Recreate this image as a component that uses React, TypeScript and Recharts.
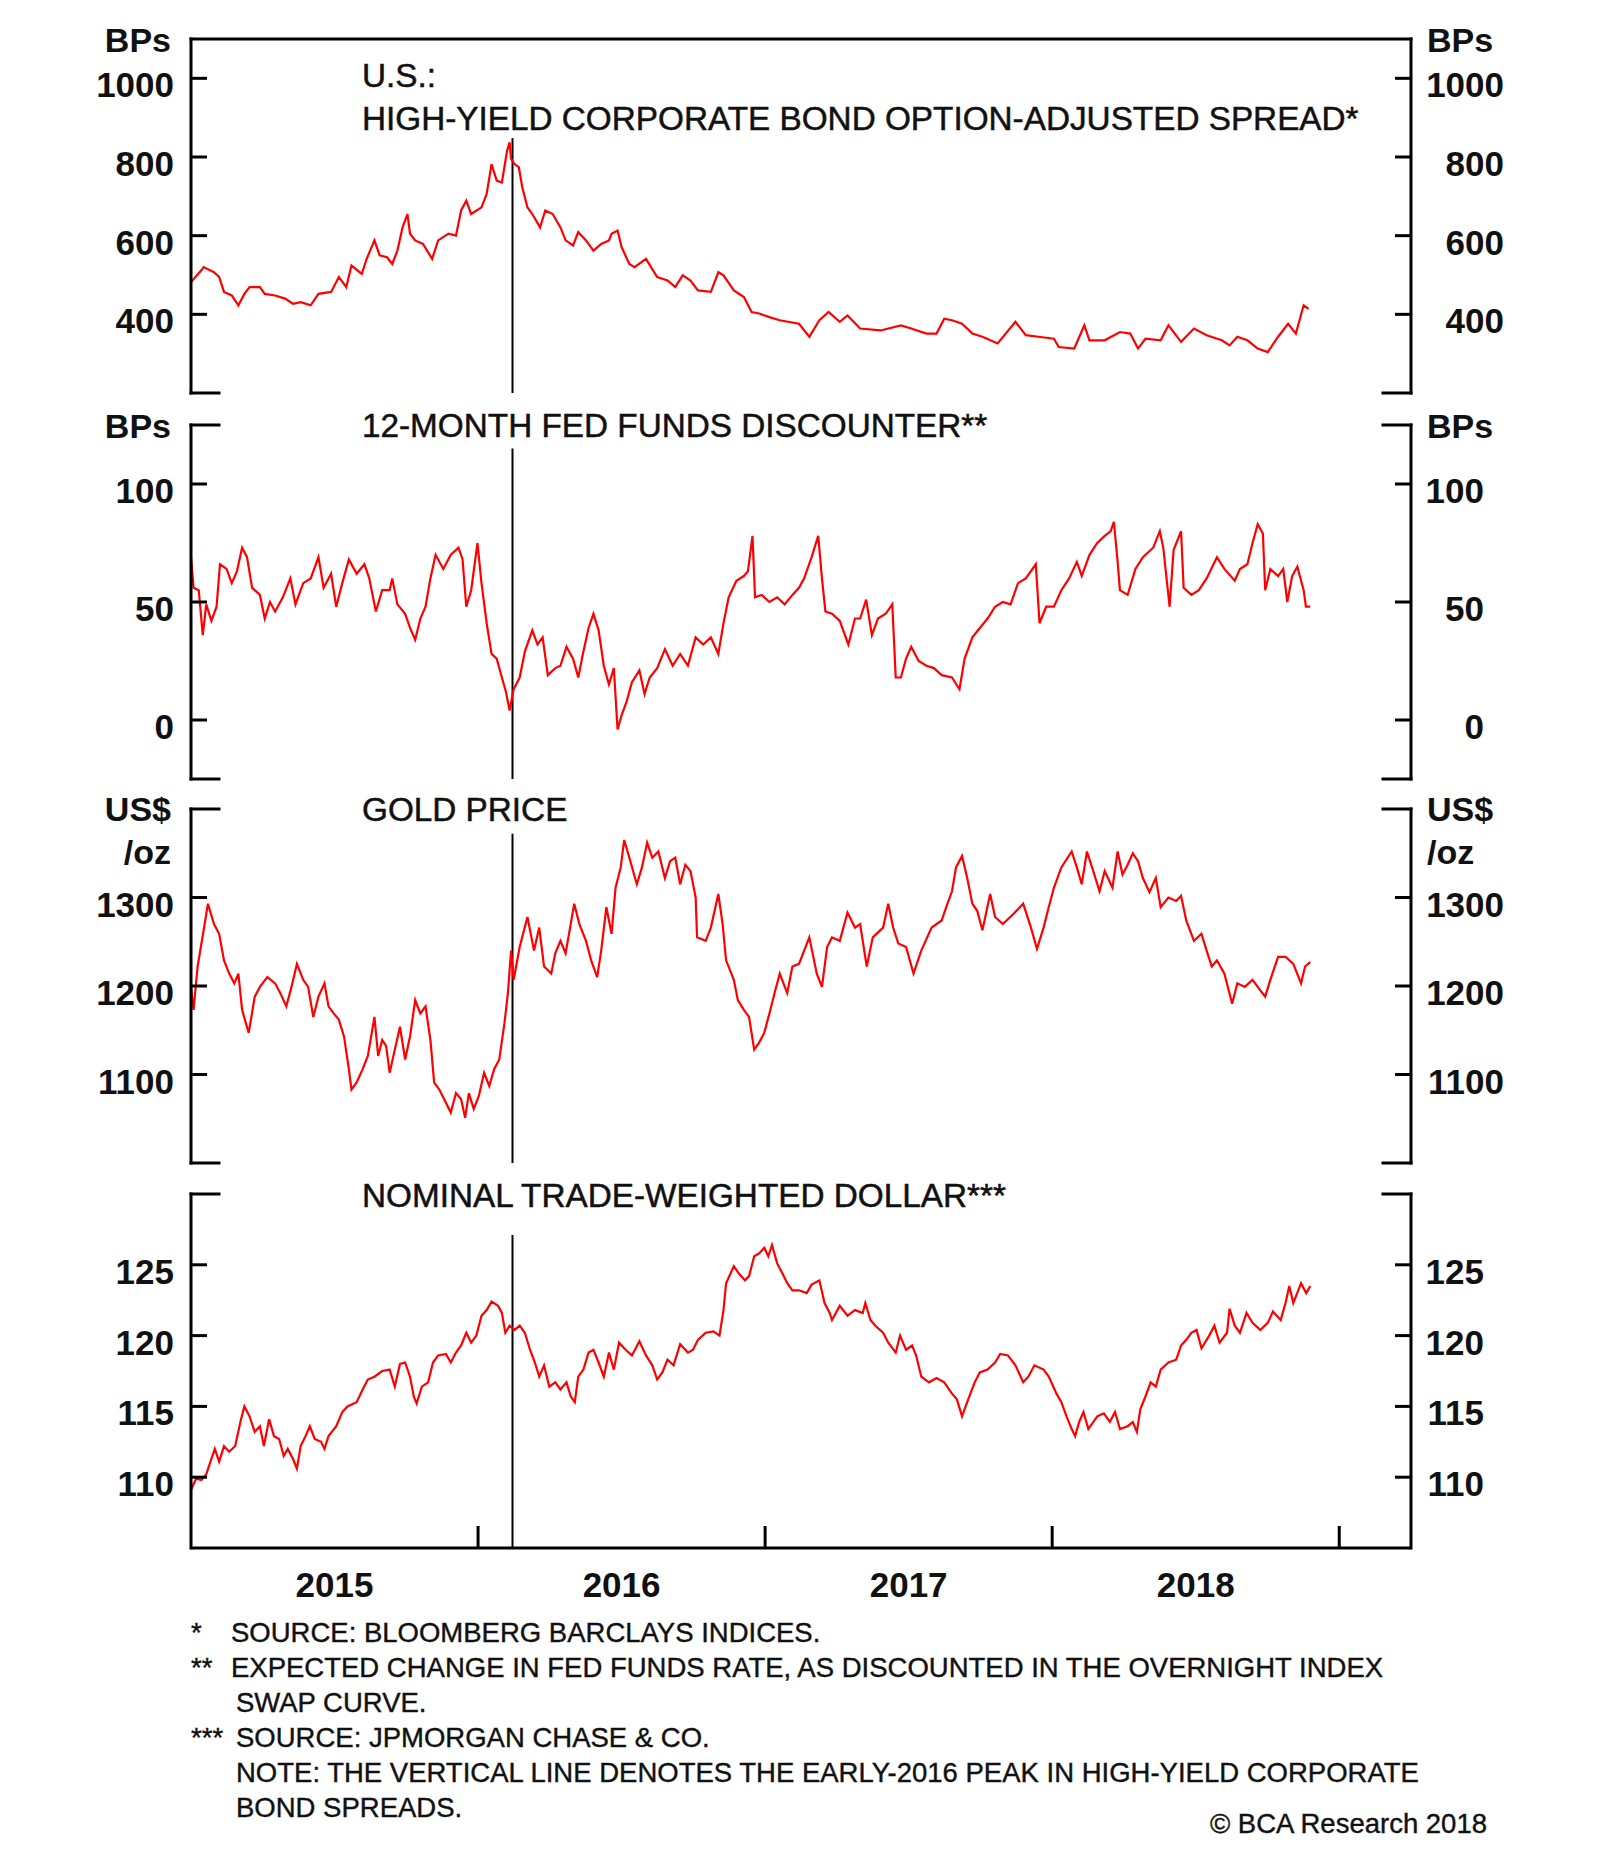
import React from "react";
import { LineChart, Line, XAxis, YAxis, ReferenceLine } from "recharts";

// decimal year, value
const hySpread: [number, number][] = [
  [2015.0, 482], [2015.036, 512], [2015.044, 520], [2015.08, 507], [2015.098, 495], [2015.115, 457],
  [2015.142, 448], [2015.165, 423], [2015.186, 452], [2015.204, 469], [2015.24, 469], [2015.257, 452],
  [2015.293, 448], [2015.328, 440], [2015.355, 427], [2015.382, 431], [2015.417, 423], [2015.444, 452],
  [2015.488, 457], [2015.515, 495], [2015.541, 469], [2015.559, 524], [2015.595, 503], [2015.612, 541],
  [2015.639, 588], [2015.657, 550], [2015.683, 545], [2015.701, 528], [2015.719, 562], [2015.737, 621],
  [2015.754, 655], [2015.763, 605], [2015.781, 588], [2015.808, 579], [2015.84, 541], [2015.861, 588],
  [2015.897, 605], [2015.923, 600], [2015.941, 664], [2015.959, 689], [2015.976, 655], [2016.012, 672],
  [2016.03, 706], [2016.047, 782], [2016.065, 740], [2016.083, 735], [2016.101, 816], [2016.11, 837],
  [2016.115, 795], [2016.127, 782], [2016.142, 774], [2016.154, 723], [2016.172, 672], [2016.189, 655],
  [2016.216, 621], [2016.234, 664], [2016.26, 655], [2016.287, 621], [2016.305, 588], [2016.331, 575],
  [2016.349, 609], [2016.376, 588], [2016.402, 562], [2016.429, 579], [2016.456, 588], [2016.465, 605],
  [2016.486, 613], [2016.5, 571], [2016.527, 528], [2016.545, 520], [2016.585, 541], [2016.624, 495],
  [2016.66, 486], [2016.687, 469], [2016.713, 499], [2016.74, 486], [2016.766, 461], [2016.811, 457],
  [2016.837, 507], [2016.855, 499], [2016.891, 461], [2016.926, 444], [2016.953, 406], [2016.979, 402],
  [2017.015, 393], [2017.051, 385], [2017.118, 376], [2017.154, 343], [2017.189, 385], [2017.221, 406],
  [2017.26, 381], [2017.287, 397], [2017.331, 364], [2017.402, 359], [2017.473, 372], [2017.509, 364],
  [2017.562, 351], [2017.597, 351], [2017.624, 389], [2017.651, 385], [2017.686, 376], [2017.722, 351],
  [2017.757, 343], [2017.81, 326], [2017.872, 381], [2017.908, 347], [2017.952, 343], [2018.006, 338],
  [2018.023, 317], [2018.077, 313], [2018.112, 372], [2018.13, 334], [2018.183, 334], [2018.236, 355],
  [2018.272, 351], [2018.299, 313], [2018.325, 338], [2018.378, 334], [2018.405, 372], [2018.449, 330],
  [2018.494, 364], [2018.538, 347], [2018.591, 334], [2018.618, 321], [2018.645, 343], [2018.68, 334],
  [2018.716, 313], [2018.751, 304], [2018.787, 343], [2018.822, 376], [2018.849, 351], [2018.876, 423],
  [2018.893, 414],
];

const fedDiscounter: [number, number][] = [
  [2015.0, 69], [2015.009, 56], [2015.027, 55], [2015.041, 36], [2015.053, 49], [2015.071, 42],
  [2015.089, 48], [2015.101, 66], [2015.124, 64], [2015.142, 58], [2015.16, 63], [2015.178, 73],
  [2015.195, 69], [2015.213, 56], [2015.24, 53], [2015.257, 43], [2015.275, 50], [2015.293, 46],
  [2015.32, 52], [2015.346, 60], [2015.364, 49], [2015.391, 58], [2015.417, 60], [2015.444, 69],
  [2015.462, 56], [2015.488, 62], [2015.506, 48], [2015.527, 58], [2015.55, 68], [2015.577, 62],
  [2015.604, 66], [2015.621, 60], [2015.644, 46], [2015.666, 55], [2015.692, 55], [2015.701, 60],
  [2015.719, 49], [2015.746, 45], [2015.763, 39], [2015.781, 34], [2015.799, 43], [2015.817, 48],
  [2015.834, 60], [2015.852, 70], [2015.879, 64], [2015.905, 70], [2015.932, 73], [2015.946, 68],
  [2015.959, 48], [2015.976, 55], [2015.998, 75], [2016.012, 58], [2016.03, 41], [2016.047, 28],
  [2016.065, 26], [2016.083, 18], [2016.097, 12], [2016.11, 4], [2016.124, 13], [2016.145, 18],
  [2016.163, 29], [2016.189, 38], [2016.207, 32], [2016.225, 35], [2016.243, 19], [2016.269, 22],
  [2016.287, 23], [2016.308, 31], [2016.331, 26], [2016.349, 18], [2016.367, 29], [2016.385, 39],
  [2016.402, 45], [2016.42, 38], [2016.438, 23], [2016.456, 15], [2016.473, 22], [2016.486, -4],
  [2016.5, 2], [2016.518, 8], [2016.536, 16], [2016.562, 21], [2016.58, 11], [2016.598, 18],
  [2016.624, 22], [2016.651, 30], [2016.678, 23], [2016.704, 28], [2016.731, 23], [2016.758, 35],
  [2016.784, 32], [2016.811, 35], [2016.837, 28], [2016.855, 41], [2016.873, 52], [2016.9, 59],
  [2016.926, 61], [2016.94, 63], [2016.956, 78], [2016.965, 52], [2016.988, 53], [2017.015, 50],
  [2017.042, 52], [2017.068, 49], [2017.095, 53], [2017.118, 56], [2017.136, 60], [2017.162, 69],
  [2017.185, 78], [2017.198, 60], [2017.21, 46], [2017.233, 45], [2017.26, 42], [2017.29, 32],
  [2017.313, 43], [2017.331, 43], [2017.352, 51], [2017.372, 36], [2017.393, 43], [2017.42, 45],
  [2017.443, 49], [2017.455, 18], [2017.473, 18], [2017.491, 26], [2017.509, 31], [2017.535, 25],
  [2017.562, 23], [2017.588, 22], [2017.615, 19], [2017.651, 18], [2017.677, 13], [2017.695, 26],
  [2017.722, 35], [2017.748, 39], [2017.775, 43], [2017.801, 48], [2017.828, 50], [2017.855, 49],
  [2017.881, 58], [2017.908, 60], [2017.943, 66], [2017.956, 41], [2017.979, 48], [2018.006, 48],
  [2018.032, 55], [2018.059, 60], [2018.086, 67], [2018.103, 61], [2018.13, 70], [2018.157, 75],
  [2018.183, 78], [2018.204, 80], [2018.215, 84], [2018.228, 67], [2018.236, 55], [2018.263, 53],
  [2018.29, 64], [2018.316, 69], [2018.352, 73], [2018.375, 80], [2018.387, 73], [2018.409, 48],
  [2018.423, 72], [2018.449, 80], [2018.458, 56], [2018.485, 53], [2018.511, 55], [2018.538, 60],
  [2018.574, 69], [2018.6, 64], [2018.636, 59], [2018.654, 64], [2018.68, 66], [2018.698, 75],
  [2018.716, 83], [2018.734, 79], [2018.742, 55], [2018.76, 64], [2018.787, 61], [2018.805, 64],
  [2018.819, 50], [2018.836, 61], [2018.854, 65], [2018.876, 55], [2018.884, 48], [2018.899, 48],
];

const goldPrice: [number, number][] = [
  [2015.0, 1199], [2015.009, 1173], [2015.023, 1222], [2015.044, 1263], [2015.059, 1293], [2015.08, 1270],
  [2015.098, 1259], [2015.115, 1229], [2015.133, 1214], [2015.151, 1203], [2015.165, 1214], [2015.178, 1173],
  [2015.201, 1147], [2015.222, 1188], [2015.24, 1199], [2015.266, 1210], [2015.293, 1203], [2015.311, 1192],
  [2015.332, 1177], [2015.35, 1199], [2015.369, 1225], [2015.391, 1207], [2015.408, 1199], [2015.426, 1165],
  [2015.444, 1188], [2015.465, 1203], [2015.479, 1177], [2015.497, 1169], [2015.515, 1162], [2015.533, 1143],
  [2015.55, 1106], [2015.559, 1083], [2015.577, 1091], [2015.598, 1106], [2015.616, 1121], [2015.639, 1165],
  [2015.652, 1121], [2015.666, 1139], [2015.68, 1132], [2015.692, 1102], [2015.71, 1128], [2015.728, 1154],
  [2015.746, 1117], [2015.763, 1143], [2015.781, 1184], [2015.799, 1169], [2015.817, 1177], [2015.834, 1139],
  [2015.847, 1091], [2015.865, 1083], [2015.882, 1072], [2015.905, 1057], [2015.923, 1079], [2015.941, 1072],
  [2015.955, 1051], [2015.968, 1079], [2015.985, 1061], [2016.003, 1076], [2016.021, 1102], [2016.039, 1087],
  [2016.056, 1106], [2016.074, 1117], [2016.092, 1158], [2016.104, 1192], [2016.115, 1240], [2016.124, 1207],
  [2016.145, 1244], [2016.172, 1278], [2016.195, 1240], [2016.213, 1266], [2016.23, 1222], [2016.255, 1214],
  [2016.269, 1237], [2016.287, 1251], [2016.305, 1237], [2016.317, 1259], [2016.335, 1293], [2016.353, 1270],
  [2016.376, 1251], [2016.394, 1229], [2016.415, 1210], [2016.429, 1240], [2016.447, 1289], [2016.465, 1259],
  [2016.479, 1311], [2016.497, 1334], [2016.509, 1365], [2016.527, 1345], [2016.553, 1315], [2016.571, 1334],
  [2016.589, 1362], [2016.607, 1345], [2016.628, 1352], [2016.651, 1322], [2016.669, 1341], [2016.687, 1345],
  [2016.704, 1315], [2016.722, 1337], [2016.74, 1330], [2016.758, 1300], [2016.763, 1255], [2016.793, 1251],
  [2016.811, 1266], [2016.837, 1304], [2016.852, 1270], [2016.864, 1229], [2016.891, 1207], [2016.905, 1184],
  [2016.926, 1173], [2016.944, 1165], [2016.962, 1128], [2016.979, 1136], [2016.997, 1147], [2017.015, 1169],
  [2017.033, 1192], [2017.051, 1214], [2017.077, 1192], [2017.095, 1222], [2017.118, 1225], [2017.154, 1255],
  [2017.18, 1214], [2017.198, 1199], [2017.216, 1244], [2017.233, 1255], [2017.26, 1251], [2017.287, 1283],
  [2017.313, 1266], [2017.331, 1270], [2017.354, 1222], [2017.375, 1255], [2017.411, 1266], [2017.429, 1293],
  [2017.446, 1266], [2017.464, 1248], [2017.491, 1244], [2017.517, 1214], [2017.544, 1240], [2017.58, 1266],
  [2017.615, 1274], [2017.633, 1291], [2017.651, 1307], [2017.665, 1334], [2017.686, 1347], [2017.704, 1322],
  [2017.722, 1293], [2017.739, 1285], [2017.757, 1263], [2017.784, 1304], [2017.801, 1278], [2017.828, 1270],
  [2017.864, 1281], [2017.899, 1293], [2017.926, 1266], [2017.947, 1242], [2017.97, 1266], [2017.988, 1289],
  [2018.006, 1311], [2018.032, 1334], [2018.068, 1352], [2018.086, 1334], [2018.103, 1315], [2018.121, 1352],
  [2018.139, 1334], [2018.165, 1307], [2018.183, 1330], [2018.21, 1311], [2018.228, 1352], [2018.245, 1326],
  [2018.263, 1337], [2018.281, 1350], [2018.299, 1341], [2018.316, 1322], [2018.339, 1306], [2018.361, 1322],
  [2018.378, 1289], [2018.405, 1300], [2018.432, 1296], [2018.449, 1302], [2018.467, 1274], [2018.494, 1251],
  [2018.52, 1259], [2018.538, 1240], [2018.556, 1222], [2018.574, 1229], [2018.6, 1214], [2018.627, 1180],
  [2018.645, 1203], [2018.671, 1199], [2018.698, 1207], [2018.725, 1195], [2018.742, 1188], [2018.76, 1207],
  [2018.787, 1233], [2018.813, 1233], [2018.84, 1225], [2018.867, 1203], [2018.881, 1222], [2018.899, 1227],
];

const tradeDollar: [number, number][] = [
  [2015.0, 109.1], [2015.018, 109.9], [2015.036, 109.8], [2015.053, 110.2], [2015.071, 111.3], [2015.083, 112.0],
  [2015.098, 111.1], [2015.115, 112.2], [2015.133, 111.8], [2015.154, 112.2], [2015.172, 113.9], [2015.186, 115.0],
  [2015.204, 114.3], [2015.222, 113.2], [2015.24, 113.6], [2015.254, 112.2], [2015.272, 114.1], [2015.289, 112.9],
  [2015.307, 112.7], [2015.323, 111.5], [2015.337, 112.0], [2015.355, 111.3], [2015.369, 110.6], [2015.382, 112.2],
  [2015.399, 112.9], [2015.414, 113.6], [2015.431, 112.7], [2015.453, 112.5], [2015.465, 112.0], [2015.479, 112.9],
  [2015.506, 113.6], [2015.527, 114.6], [2015.545, 115.0], [2015.577, 115.3], [2015.598, 116.2], [2015.616, 116.9],
  [2015.639, 117.1], [2015.666, 117.5], [2015.692, 117.6], [2015.71, 116.4], [2015.728, 118.0], [2015.746, 118.1],
  [2015.763, 117.1], [2015.776, 115.7], [2015.786, 115.2], [2015.804, 116.4], [2015.826, 116.7], [2015.843, 118.1],
  [2015.861, 118.6], [2015.888, 118.7], [2015.905, 118.1], [2015.923, 118.8], [2015.941, 119.3], [2015.959, 120.2],
  [2015.976, 119.5], [2015.994, 120.0], [2016.012, 121.4], [2016.03, 121.8], [2016.047, 122.4], [2016.07, 122.1],
  [2016.083, 121.6], [2016.095, 120.2], [2016.11, 120.7], [2016.127, 120.4], [2016.145, 120.7], [2016.163, 120.2],
  [2016.181, 119.0], [2016.198, 118.1], [2016.213, 117.1], [2016.23, 117.9], [2016.248, 116.4], [2016.269, 116.7],
  [2016.287, 116.2], [2016.308, 116.7], [2016.323, 115.7], [2016.337, 115.3], [2016.349, 117.1], [2016.367, 117.6],
  [2016.385, 118.8], [2016.402, 119.0], [2016.42, 118.1], [2016.438, 117.1], [2016.456, 118.8], [2016.473, 117.6],
  [2016.491, 119.5], [2016.514, 119.0], [2016.536, 118.6], [2016.562, 119.6], [2016.585, 118.6], [2016.607, 117.9],
  [2016.624, 116.9], [2016.642, 117.4], [2016.66, 118.3], [2016.681, 117.9], [2016.704, 119.4], [2016.731, 118.8],
  [2016.749, 119.0], [2016.766, 119.7], [2016.793, 120.2], [2016.82, 120.3], [2016.841, 120.0], [2016.855, 121.8],
  [2016.864, 123.7], [2016.891, 124.9], [2016.908, 124.4], [2016.93, 123.9], [2016.944, 124.2], [2016.962, 125.6],
  [2016.979, 125.8], [2016.997, 126.2], [2017.011, 125.6], [2017.024, 126.4], [2017.042, 125.1], [2017.06, 124.4],
  [2017.077, 123.7], [2017.095, 123.2], [2017.118, 123.2], [2017.145, 123.0], [2017.162, 123.6], [2017.189, 123.9],
  [2017.207, 122.3], [2017.225, 121.6], [2017.233, 121.1], [2017.26, 122.1], [2017.287, 121.4], [2017.313, 121.8],
  [2017.34, 121.6], [2017.349, 122.3], [2017.367, 121.1], [2017.384, 120.7], [2017.411, 120.2], [2017.429, 119.5],
  [2017.455, 118.8], [2017.47, 120.0], [2017.491, 119.0], [2017.512, 119.3], [2017.526, 118.6], [2017.544, 117.1],
  [2017.571, 116.7], [2017.597, 117.0], [2017.624, 116.7], [2017.651, 115.9], [2017.668, 115.5], [2017.686, 114.3],
  [2017.704, 115.3], [2017.73, 116.7], [2017.748, 117.4], [2017.775, 117.6], [2017.801, 118.1], [2017.819, 118.7],
  [2017.846, 118.6], [2017.872, 117.9], [2017.899, 116.7], [2017.917, 117.1], [2017.938, 117.9], [2017.97, 117.6],
  [2017.988, 117.1], [2018.015, 115.9], [2018.032, 115.3], [2018.05, 114.3], [2018.068, 113.4], [2018.08, 112.9],
  [2018.094, 113.9], [2018.109, 114.6], [2018.126, 113.4], [2018.157, 114.3], [2018.18, 114.5], [2018.201, 113.9],
  [2018.219, 114.6], [2018.236, 113.4], [2018.263, 113.6], [2018.281, 113.9], [2018.295, 113.2], [2018.307, 114.8],
  [2018.325, 115.7], [2018.343, 116.7], [2018.361, 116.4], [2018.378, 117.6], [2018.405, 118.1], [2018.432, 118.3],
  [2018.449, 119.3], [2018.467, 119.7], [2018.485, 120.2], [2018.503, 120.4], [2018.52, 119.1], [2018.547, 120.0],
  [2018.565, 120.7], [2018.583, 119.5], [2018.609, 120.2], [2018.618, 121.9], [2018.636, 120.7], [2018.654, 120.2],
  [2018.677, 121.6], [2018.698, 120.9], [2018.725, 120.4], [2018.751, 120.9], [2018.769, 121.7], [2018.796, 121.1],
  [2018.813, 122.3], [2018.826, 123.5], [2018.84, 122.3], [2018.867, 123.7], [2018.885, 123.0], [2018.899, 123.5],
];

const xDomain: [number, number] = [2015, 2019.25];
const yearBreaks = [2016, 2017, 2018, 2019];
const yearMids = [2015.5, 2016.5, 2017.5, 2018.5];
const peakDate = 2016.12; // early-2016 peak in HY spreads

const hyTicks = [400, 600, 800, 1000];
const fedTicks = [0, 50, 100];
const goldTicks = [1100, 1200, 1300];
const dollarTicks = [110, 115, 120, 125];

const FONT = "'Liberation Sans', Arial, Helvetica, sans-serif";
const RED = "#ff0000";
const W = 1600;
const PLOT_LEFT = 191;
const PLOT_RIGHT = 1411;
const PLOT_H = 354;
const PAD = 20;
const Y_W = 100;
const STUB = 28;
const P4_BOTTOM = 80;

const toRows = (pts: [number, number][]) => pts.map(([t, v]) => ({ t, v }));

function makeYTick(rightX: number) {
  return (props: any) => {
    const { y, payload } = props;
    const label = String(payload.value);
    return (
      <g>
        <line x1={PLOT_LEFT} x2={PLOT_LEFT + 16} y1={y} y2={y} stroke="#000" strokeWidth={3} />
        <line x1={PLOT_RIGHT - 16} x2={PLOT_RIGHT} y1={y} y2={y} stroke="#000" strokeWidth={3} />
        <text x={174} y={y + 19} textAnchor="end" fontFamily={FONT} fontWeight="bold" fontSize={35} fill="#111">
          {label}
        </text>
        <text x={rightX} y={y + 19} textAnchor="end" fontFamily={FONT} fontWeight="bold" fontSize={35} fill="#111">
          {label}
        </text>
      </g>
    );
  };
}

const BreakTick = (props: any) => {
  const { x } = props;
  const axisY = PAD + PLOT_H;
  return <line x1={x} x2={x} y1={axisY} y2={axisY - 22} stroke="#000" strokeWidth={3} />;
};

const YearTick = (props: any) => {
  const { x, payload } = props;
  return (
    <text x={x} y={PAD + PLOT_H + 49} textAnchor="middle" fontFamily={FONT} fontWeight="bold" fontSize={35} fill="#111">
      {Math.floor(payload.value)}
    </text>
  );
};

interface PanelProps {
  top: number;
  points: [number, number][];
  domain: [number, number];
  ticks: number[];
  rightLabelX: number;
  markerTop: number;
  withYears?: boolean;
}

function Panel({ top, points, domain, ticks, rightLabelX, markerTop, withYears }: PanelProps) {
  const bottom = withYears ? P4_BOTTOM : PAD;
  const height = PAD + PLOT_H + bottom + (withYears ? 2 : 0);
  return (
    <div style={{ position: "absolute", left: 0, top: top - PAD }}>
      <LineChart
        width={W}
        height={height}
        data={toRows(points)}
        margin={{ top: PAD, right: W - PLOT_RIGHT, bottom, left: PLOT_LEFT - Y_W }}
      >
        {withYears ? (
          <>
            <XAxis
              xAxisId="x"
              dataKey="t"
              type="number"
              domain={xDomain}
              allowDataOverflow
              ticks={yearBreaks}
              interval={0}
              height={1}
              axisLine={{ stroke: "#000", strokeWidth: 3 }}
              tickLine={false}
              tick={<BreakTick />}
            />
            <XAxis
              xAxisId="yr"
              dataKey="t"
              type="number"
              domain={xDomain}
              allowDataOverflow
              ticks={yearMids}
              interval={0}
              height={1}
              axisLine={false}
              tickLine={false}
              tick={<YearTick />}
            />
          </>
        ) : (
          <XAxis xAxisId="x" dataKey="t" type="number" domain={xDomain} allowDataOverflow hide />
        )}
        <YAxis
          width={Y_W}
          domain={domain}
          ticks={ticks}
          interval={0}
          allowDataOverflow
          axisLine={false}
          tickLine={false}
          tick={makeYTick(rightLabelX)}
        />
        <ReferenceLine
          xAxisId="x"
          segment={[
            { x: peakDate, y: domain[0] },
            { x: peakDate, y: markerTop },
          ]}
          stroke="#000"
          strokeWidth={2}
          ifOverflow="visible"
        />
        <Line
          xAxisId="x"
          type="linear"
          dataKey="v"
          stroke={RED}
          strokeWidth={2.2}
          dot={false}
          isAnimationActive={false}
        />
      </LineChart>
    </div>
  );
}

const panelTops = [39, 425, 809, 1194];

function Frames() {
  const seg = (x1: number, y1: number, x2: number, y2: number, k: string) => (
    <line key={k} x1={x1} y1={y1} x2={x2} y2={y2} stroke="#000" strokeWidth={3} strokeLinecap="square" />
  );
  const out: React.ReactNode[] = [];
  panelTops.forEach((t, i) => {
    const b = t + PLOT_H;
    out.push(seg(PLOT_LEFT, t, PLOT_LEFT, b, `l${i}`));
    out.push(seg(PLOT_RIGHT, t, PLOT_RIGHT, b, `r${i}`));
    if (i === 0) {
      out.push(seg(PLOT_LEFT, t, PLOT_RIGHT, t, `t${i}`));
    } else {
      out.push(seg(PLOT_LEFT, t, PLOT_LEFT + STUB, t, `tl${i}`));
      out.push(seg(PLOT_RIGHT - STUB, t, PLOT_RIGHT, t, `tr${i}`));
    }
    if (i < 3) {
      out.push(seg(PLOT_LEFT, b, PLOT_LEFT + STUB, b, `bl${i}`));
      out.push(seg(PLOT_RIGHT - STUB, b, PLOT_RIGHT, b, `br${i}`));
    }
  });
  return <>{out}</>;
}

const titleStyle = { fontFamily: FONT, fontSize: 33.3, fill: "#111", stroke: "#111", strokeWidth: 0.5 };
const unitStyle = { fontFamily: FONT, fontSize: 34, fontWeight: "bold" as const, fill: "#111" };
const noteStyle = { fontFamily: FONT, fontSize: 27.5, fill: "#111", stroke: "#111", strokeWidth: 0.4 };

function Unit({ y, text }: { y: number; text: string }) {
  return (
    <>
      <text x={171} y={y} textAnchor="end" {...unitStyle}>{text}</text>
      <text x={1427} y={y} {...unitStyle}>{text}</text>
    </>
  );
}

export default function App() {
  return (
    <div style={{ position: "absolute", left: 0, top: 0, width: W, height: 1849, background: "#fff", overflow: "hidden" }}>
      <Panel top={panelTops[0]} points={hySpread} domain={[200, 1100]} ticks={hyTicks} rightLabelX={1504} markerTop={848} />
      <Panel top={panelTops[1]} points={fedDiscounter} domain={[-25, 125]} ticks={fedTicks} rightLabelX={1484} markerTop={115} />
      <Panel top={panelTops[2]} points={goldPrice} domain={[1000, 1400]} ticks={goldTicks} rightLabelX={1504} markerTop={1372} />
      <Panel top={panelTops[3]} points={tradeDollar} domain={[105, 130]} ticks={dollarTicks} rightLabelX={1484} markerTop={127.1} withYears />
      <svg width={W} height={1849} style={{ position: "absolute", left: 0, top: 0, pointerEvents: "none" }}>
        <Frames />
        <text x={362} y={87} {...titleStyle}>U.S.:</text>
        <text x={362} y={130} {...titleStyle}>HIGH-YIELD CORPORATE BOND OPTION-ADJUSTED SPREAD*</text>
        <text x={362} y={437} {...titleStyle}>12-MONTH FED FUNDS DISCOUNTER**</text>
        <text x={362} y={821} {...titleStyle}>GOLD PRICE</text>
        <text x={362} y={1207} {...titleStyle}>NOMINAL TRADE-WEIGHTED DOLLAR***</text>
        <Unit y={52} text="BPs" />
        <Unit y={438} text="BPs" />
        <Unit y={821} text="US$" />
        <Unit y={864} text="/oz" />
        <text x={191} y={1642} {...noteStyle}>*</text>
        <text x={231} y={1642} {...noteStyle}>SOURCE: BLOOMBERG BARCLAYS INDICES.</text>
        <text x={191} y={1677} {...noteStyle}>**</text>
        <text x={231} y={1677} {...noteStyle}>EXPECTED CHANGE IN FED FUNDS RATE, AS DISCOUNTED IN THE OVERNIGHT INDEX</text>
        <text x={236} y={1712} {...noteStyle}>SWAP CURVE.</text>
        <text x={191} y={1747} {...noteStyle}>***</text>
        <text x={236} y={1747} {...noteStyle}>SOURCE: JPMORGAN CHASE &amp; CO.</text>
        <text x={236} y={1782} {...noteStyle}>NOTE: THE VERTICAL LINE DENOTES THE EARLY-2016 PEAK IN HIGH-YIELD CORPORATE</text>
        <text x={236} y={1817} {...noteStyle}>BOND SPREADS.</text>
        <text x={1487} y={1833} textAnchor="end" {...noteStyle}>© BCA Research 2018</text>
      </svg>
    </div>
  );
}
